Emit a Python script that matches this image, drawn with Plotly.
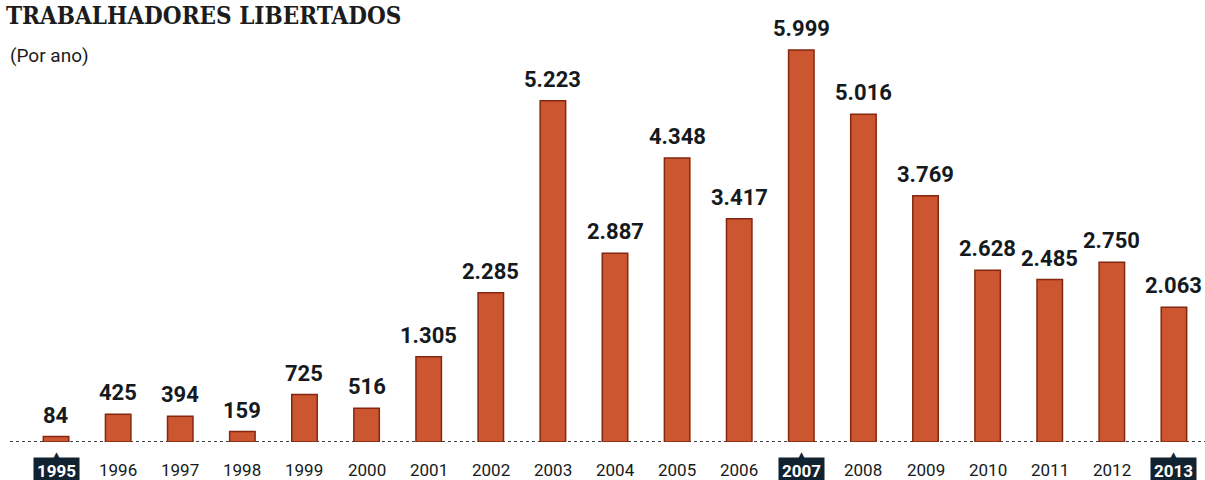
import plotly.graph_objects as go

# Trabalhadores libertados por ano
years = [1995, 1996, 1997, 1998, 1999, 2000, 2001, 2002, 2003, 2004,
         2005, 2006, 2007, 2008, 2009, 2010, 2011, 2012, 2013]
freed = [84, 425, 394, 159, 725, 516, 1305, 2285, 5223, 2887,
         4348, 3417, 5999, 5016, 3769, 2628, 2485, 2750, 2063]
highlight_years = [1995, 2007, 2013]

title_text = "TRABALHADORES LIBERTADOS"
subtitle_text = "(Por ano)"

BAR = "#cb5630"
EDGE = "#842710"
INK = "#141a20"
NAVY = "#112230"

W, H = 1205, 480
ML, MR, MT, MB = 25, 0, 20, 38
YMAX = 6458

fig = go.Figure()
fig.add_trace(go.Bar(
    x=years, y=freed, width=0.41,
    marker=dict(color=BAR, line=dict(color=EDGE, width=1.5)),
    hoverinfo="x+y",
))


def fmt(v):
    return f"{v:,}".replace(",", ".")


annotations = []
for yr, v in zip(years, freed):
    annotations.append(dict(
        x=yr, y=v, xref="x", yref="y", text=fmt(v), showarrow=False,
        yanchor="bottom", yshift=7,
        font=dict(family="Roboto", size=22, weight=700, color=INK),
    ))
    hl = yr in highlight_years
    annotations.append(dict(
        x=yr, y=0, xref="x", yref="y",
        text=f"<b>{yr}</b>" if hl else str(yr), showarrow=False,
        yanchor="top", yshift=-15,
        font=dict(family="Roboto", size=17,
                  color="white" if hl else INK),
        bgcolor=NAVY if hl else None, borderpad=3 if hl else 2,
    ))
    if hl:
        annotations.append(dict(
            x=yr, y=0, xref="x", yref="y", text="▲", showarrow=False,
            yanchor="top", yshift=-6,
            font=dict(family="DejaVu Sans", size=9, color=NAVY),
        ))

annotations.append(dict(
    x=0, y=1, xref="paper", yref="paper", xshift=-21, yshift=MT + 1,
    xanchor="left", yanchor="top", text=title_text, showarrow=False,
    font=dict(family="DejaVu Serif Condensed, DejaVu Serif", size=24,
              weight=700, color="#1c1c1c"),
))
annotations.append(dict(
    x=0, y=1, xref="paper", yref="paper", xshift=-17, yshift=MT - 42,
    xanchor="left", yanchor="top", text=subtitle_text, showarrow=False,
    font=dict(family="Roboto", size=19, color="#1c1c1c"),
))

fig.add_shape(type="line", xref="paper", yref="y",
              x0=-15 / (W - ML - MR), x1=1, y0=0, y1=0,
              line=dict(color="#444444", width=2, dash="dot"), layer="below")

fig.update_layout(
    width=W, height=H,
    margin=dict(l=ML, r=MR, t=MT, b=MB),
    paper_bgcolor="white", plot_bgcolor="white",
    showlegend=False,
    annotations=annotations,
    xaxis=dict(range=[1994.5, 2013.5], showticklabels=False, showgrid=False,
               zeroline=False, showline=False, ticks=""),
    yaxis=dict(range=[0, YMAX], showticklabels=False, showgrid=False,
               zeroline=False, showline=False, ticks=""),
)

fig.write_html("out.html", config={"displayModeBar": False})
